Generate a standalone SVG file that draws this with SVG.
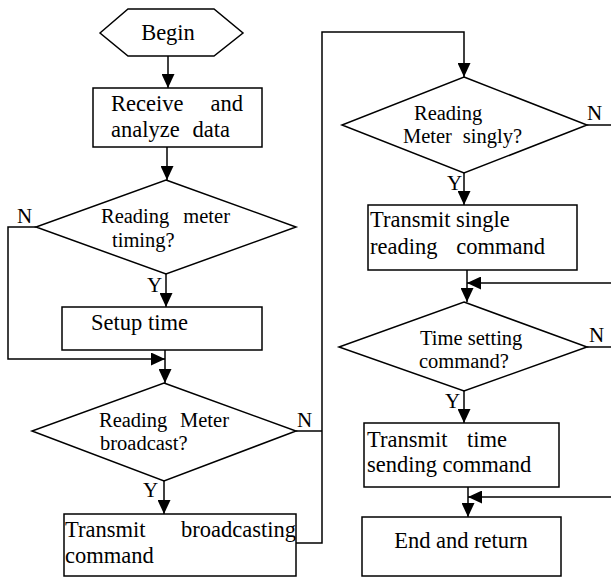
<svg xmlns="http://www.w3.org/2000/svg" width="611" height="577" viewBox="0 0 611 577">
  <style>
    .shape { fill: #ffffff; stroke: #000000; stroke-width: 1.5; }
    .wire { fill: none; stroke: #000000; stroke-width: 1.5; }
    text { font-family: "Liberation Serif", "Times New Roman", serif; fill: #000000; }
    .box { font-size: 22.5px; }
    .dia { font-size: 20.5px; }
    .lbl { font-size: 21px; }
  </style>
  <defs>
    <marker id="arrow" markerUnits="userSpaceOnUse" markerWidth="14" markerHeight="13" refX="14" refY="6.5" orient="auto">
      <path d="M0,0 L14,6.5 L0,13 Z" fill="#000000"/>
    </marker>
  </defs>

  <!-- connectors -->
  <g id="connectors">
    <path class="wire" d="M168,56 V88" marker-end="url(#arrow)"/>
    <path class="wire" d="M167,147 V180" marker-end="url(#arrow)"/>
    <path class="wire" d="M166,274 V307" marker-end="url(#arrow)"/>
    <path class="wire" d="M36,227 H8 V359 H165" marker-end="url(#arrow)"/>
    <path class="wire" d="M165,350 V383" marker-end="url(#arrow)"/>
    <path class="wire" d="M164,481 V514" marker-end="url(#arrow)"/>
    <path class="wire" d="M296,543 H322 V32 H464 V77" marker-end="url(#arrow)"/>
    <path class="wire" d="M296,431 H322"/>
    <path class="wire" d="M587,125 H611"/>
    <path class="wire" d="M464,173 V205" marker-end="url(#arrow)"/>
    <path class="wire" d="M467,270 V302" marker-end="url(#arrow)"/>
    <path class="wire" d="M611,283 H467" marker-end="url(#arrow)"/>
    <path class="wire" d="M587,347 H611"/>
    <path class="wire" d="M464,391 V423" marker-end="url(#arrow)"/>
    <path class="wire" d="M468,487 V517" marker-end="url(#arrow)"/>
    <path class="wire" d="M611,497 H468" marker-end="url(#arrow)"/>
    <!-- branch labels -->
    <text class="lbl" x="17" y="223">N</text>
    <text class="lbl" x="147" y="292">Y</text>
    <text class="lbl" x="297" y="427">N</text>
    <text class="lbl" x="143" y="497">Y</text>
    <text class="lbl" x="587" y="120">N</text>
    <text class="lbl" x="447" y="190">Y</text>
    <text class="lbl" x="589" y="342">N</text>
    <text class="lbl" x="445" y="408">Y</text>
  </g>

  <g id="begin">
    <polygon class="shape" points="100,33 128,9 214,9 243,33 214,56 128,56"/>
    <text class="box" x="168" y="40" text-anchor="middle">Begin</text>
  </g>

  <g id="receive">
    <rect class="shape" x="93" y="88" width="169" height="59"/>
    <text class="box" y="111"><tspan x="111">Receive</tspan><tspan x="243" text-anchor="end">and</tspan></text>
    <text class="box" y="137"><tspan x="111">analyze</tspan><tspan x="230" text-anchor="end">data</tspan></text>
  </g>

  <g id="check-timing">
    <polygon class="shape" points="166,180 296,227 166,274 36,227"/>
    <text class="dia" y="223"><tspan x="101">Reading</tspan><tspan x="230" text-anchor="end">meter</tspan></text>
    <text class="dia" x="112" y="247">timing?</text>
  </g>

  <g id="setup-time">
    <rect class="shape" x="62" y="307" width="200" height="43"/>
    <text class="box" x="91" y="330">Setup time</text>
  </g>

  <g id="check-broadcast">
    <polygon class="shape" points="164,383 296,431 164,481 32,431"/>
    <text class="dia" y="427"><tspan x="99">Reading</tspan><tspan x="229" text-anchor="end">Meter</tspan></text>
    <text class="dia" x="100" y="450">broadcast?</text>
  </g>

  <g id="transmit-broadcast">
    <rect class="shape" x="64" y="514" width="232" height="62"/>
    <text class="box" y="537"><tspan x="65">Transmit</tspan><tspan x="296" text-anchor="end">broadcasting</tspan></text>
    <text class="box" x="65" y="563">command</text>
  </g>

  <g id="check-single">
    <polygon class="shape" points="464,77 587,125 464,173 342,125"/>
    <text class="dia" x="414" y="120">Reading</text>
    <text class="dia" y="143"><tspan x="403">Meter</tspan><tspan x="522" text-anchor="end">singly?</tspan></text>
  </g>

  <g id="transmit-single">
    <rect class="shape" x="368" y="205" width="209" height="65"/>
    <text class="box" x="370" y="227">Transmit single</text>
    <text class="box" y="254"><tspan x="370">reading</tspan><tspan x="545" text-anchor="end">command</tspan></text>
  </g>

  <g id="check-time-setting">
    <polygon class="shape" points="464,302 587,347 464,391 339,347"/>
    <text class="dia" x="420" y="345">Time setting</text>
    <text class="dia" x="419" y="368">command?</text>
  </g>

  <g id="transmit-time">
    <rect class="shape" x="364" y="423" width="195" height="64"/>
    <text class="box" y="447"><tspan x="367">Transmit</tspan><tspan x="507" text-anchor="end">time</tspan></text>
    <text class="box" x="367" y="472">sending command</text>
  </g>

  <g id="end-return">
    <rect class="shape" x="362" y="517" width="199" height="59"/>
    <text class="box" x="461" y="548" text-anchor="middle">End and return</text>
  </g>
</svg>
